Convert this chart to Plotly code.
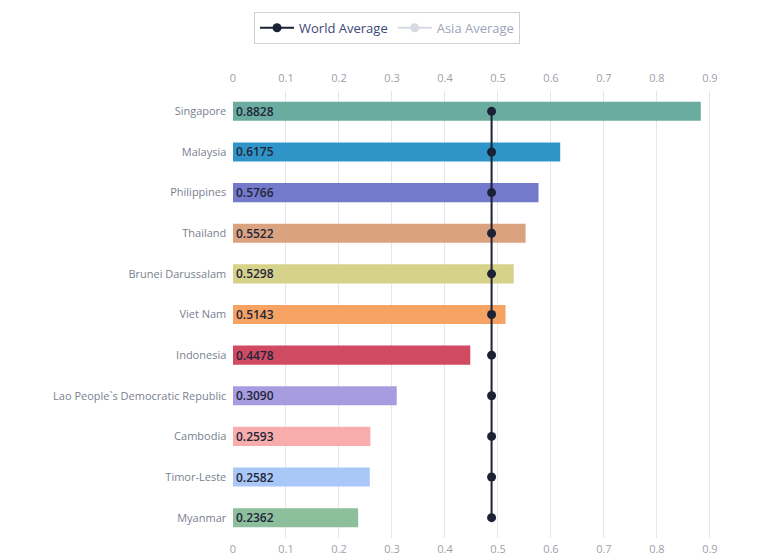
import plotly.graph_objects as go

countries = ["Singapore", "Malaysia", "Philippines", "Thailand", "Brunei Darussalam",
             "Viet Nam", "Indonesia", "Lao People`s Democratic Republic", "Cambodia",
             "Timor-Leste", "Myanmar"]
values = [0.8828, 0.6175, 0.5766, 0.5522, 0.5298, 0.5143, 0.4478, 0.3090, 0.2593, 0.2582, 0.2362]
value_labels = ["0.8828", "0.6175", "0.5766", "0.5522", "0.5298", "0.5143", "0.4478",
                "0.3090", "0.2593", "0.2582", "0.2362"]
bar_colors = ["#6aaca0", "#2f95c8", "#7479cc", "#dba27f", "#d6d28a", "#f5a262",
              "#d04a62", "#a89ce0", "#f9acac", "#a9c8f7", "#8dbf9c"]
world_avg = [0.488] * len(countries)
asia_avg = [0.45] * len(countries)
x_ticks = [0, 0.1, 0.2, 0.3, 0.4, 0.5, 0.6, 0.7, 0.8, 0.9, 1]
x_tick_text = ["0", "0.1", "0.2", "0.3", "0.4", "0.5", "0.6", "0.7", "0.8", "0.9", "1"]

FONT = "Open Sans"

fig = go.Figure()
fig.add_trace(go.Bar(
    y=countries, x=values, orientation="h",
    marker=dict(color=bar_colors, line=dict(width=0)),
    width=0.47,
    text=value_labels, textposition="inside", insidetextanchor="start",
    textfont=dict(family=FONT, size=12, color="#22263a", weight=600),
    constraintext="none",
    showlegend=False, hoverinfo="x+y",
))
fig.add_trace(go.Scatter(
    y=countries, x=world_avg, mode="lines+markers", name="World Average",
    line=dict(color="#1c2236", width=2),
    marker=dict(color="#1c2236", size=9),
))
fig.add_trace(go.Scatter(
    y=countries, x=asia_avg, mode="lines+markers", name="Asia Average",
    line=dict(color="#b0b6c8", width=2),
    marker=dict(color="#b0b6c8", size=9),
    visible="legendonly",
))
# invisible trace to drive the top axis
fig.add_trace(go.Scatter(
    y=[countries[0]], x=[0], xaxis="x2", mode="markers",
    marker=dict(opacity=0), showlegend=False, hoverinfo="skip",
))

axis_common = dict(
    range=[0, 1.004], tickvals=x_ticks, ticktext=x_tick_text,
    gridcolor="#e6e6ea", gridwidth=1,
    zeroline=False, showline=False, ticks="",
    tickfont=dict(family=FONT, size=11, color="#a0a0a8"),
    automargin=False, fixedrange=True,
)

# page body adds an 8px offset, so the figure is sized 8px smaller
fig.update_layout(
    width=757, height=549,
    margin=dict(l=225, r=0, t=83, b=19),
    paper_bgcolor="white", plot_bgcolor="white",
    xaxis=dict(**axis_common, side="bottom", showgrid=True, ticklabelstandoff=3),
    xaxis2=dict(**axis_common, side="top", overlaying="x", showgrid=False, ticklabelstandoff=6),
    yaxis=dict(range=[10.5, -0.5], showgrid=False, zeroline=False, ticks="",
               tickfont=dict(family=FONT, size=11, color="#7a7f90"),
               automargin=False, ticksuffix="  "),
    legend=dict(orientation="h", xref="container", yref="container",
                x=0.5007, xanchor="center", y=0.993, yanchor="top",
                bordercolor="#d0d0d6", borderwidth=1, bgcolor="white",
                font=dict(family=FONT, size=13, color="#3c4778"),
                itemwidth=34),
    showlegend=True,
)

fig.write_html("out.html")
